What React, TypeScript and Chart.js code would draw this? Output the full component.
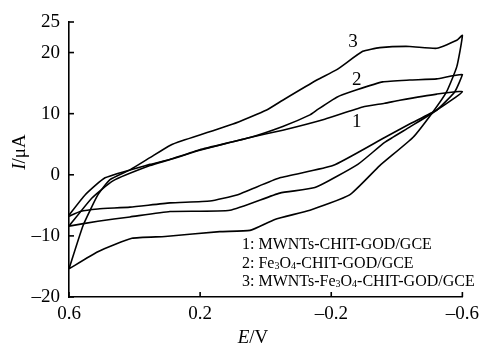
import React, { useEffect, useRef } from 'react';
import { Chart, registerables } from 'chart.js';
Chart.register(...registerables);

// Curve 1: MWNTs-CHIT-GOD/GCE (loop: 0.6 -> -0.6 -> 0.6)
const c1Potential = [0.6, 0.566, 0.512, 0.414, 0.292, 0.17, 0.088, -0.043, -0.205, -0.363, -0.439, -0.522, -0.6,
  -0.522, -0.409, -0.363, -0.296, -0.18, -0.052, 0.048, 0.201, 0.292, 0.353, 0.49, 0.551, 0.6];
const c1Current = [-6.8, -6.0, -5.6, -5.3, -4.6, -4.3, -3.3, -0.5, 1.5, 6.1, 8.3, 10.6, 13.6,
  13.2, 12.2, 11.7, 11.1, 9.1, 7.3, 6.1, 4.0, 2.5, 1.7, -0.5, -3.3, -6.6];

// Curve 2: Fe3O4-CHIT-GOD/GCE
const c2Potential = [0.6, 0.512, 0.414, 0.292, 0.109, -0.043, -0.15, -0.281, -0.363, -0.439, -0.522, -0.577, -0.6,
  -0.522, -0.439, -0.357, -0.278, -0.217, -0.159, -0.135, -0.052, 0.048, 0.201, 0.292, 0.353, 0.466, 0.53, 0.6];
const c2Current = [-8.4, -7.6, -6.9, -6.0, -5.8, -3.0, -2.1, 1.7, 5.3, 7.8, 10.6, 13.6, 16.4,
  15.7, 15.5, 15.2, 13.9, 12.7, 10.7, 9.8, 7.9, 6.1, 4.1, 2.5, 1.5, -1.0, -3.8, -8.4];

// Curve 3: MWNTs-Fe3O4-CHIT-GOD/GCE
const c3Potential = [0.6, 0.512, 0.408, 0.307, 0.14, 0.048, -0.028, -0.135, -0.256, -0.348, -0.449, -0.509, -0.552, -0.583, -0.6,
  -0.583, -0.522, -0.439, -0.348, -0.296, -0.217, -0.156, -0.052, -0.003, 0.1, 0.253, 0.292, 0.353, 0.414, 0.475, 0.512, 0.557, 0.6];
const c3Current = [-15.4, -12.6, -10.4, -10.1, -9.3, -9.1, -7.3, -5.8, -3.3, 1.5, 6.1, 10.2, 13.6, 17.7, 22.8,
  22.0, 20.7, 21.0, 20.8, 20.2, 17.2, 15.5, 12.2, 10.6, 8.3, 5.6, 4.8, 2.8, 0.8, -0.8, -3.3, -8.3, -15.4];

const yTicks = [-20, -10, 0, 10, 20, 25];
const xTicks = [0.6, 0.2, -0.2, -0.6];

const curveLabels = ['1', '2', '3'];
const curveLabelPotential = [-0.278, -0.278, -0.266];
const curveLabelCurrent = [8.6, 15.5, 21.8];

type Seg = { t: string; sub?: boolean };
const legendLines: Seg[][] = [
  [{ t: '1: MWNTs-CHIT-GOD/GCE' }],
  [{ t: '2: Fe' }, { t: '3', sub: true }, { t: 'O' }, { t: '4', sub: true }, { t: '-CHIT-GOD/GCE' }],
  [{ t: '3: MWNTs-Fe' }, { t: '3', sub: true }, { t: 'O' }, { t: '4', sub: true }, { t: '-CHIT-GOD/GCE' }],
];

const SERIF = "'Liberation Serif', 'Times New Roman', serif";

function toPoints(v: number[], i: number[]) {
  return v.map((x, k) => ({ x, y: i[k] }));
}

function fmt(v: number) {
  if (v === 0) return '0';
  return v < 0 ? '\u2013' + String(Math.abs(v)) : String(v);
}

const decorPlugin = {
  id: 'decor',
  afterDraw(chart: any) {
    const ctx: CanvasRenderingContext2D = chart.ctx;
    const xs = chart.scales.x;
    const ys = chart.scales.y;
    const area = chart.chartArea;
    ctx.save();
    ctx.strokeStyle = '#000';
    ctx.lineWidth = 1.6;
    // inward tick marks
    yTicks.forEach((v) => {
      const py = ys.getPixelForValue(v);
      ctx.beginPath();
      ctx.moveTo(area.left, py);
      ctx.lineTo(area.left + 5, py);
      ctx.stroke();
    });
    xTicks.forEach((v) => {
      const px = xs.getPixelForValue(v);
      ctx.beginPath();
      ctx.moveTo(px, area.bottom);
      ctx.lineTo(px, area.bottom - 5);
      ctx.stroke();
    });
    ctx.fillStyle = '#000';
    // curve labels
    ctx.font = `19px ${SERIF}`;
    ctx.textAlign = 'center';
    ctx.textBaseline = 'middle';
    curveLabels.forEach((t, k) => {
      ctx.fillText(t, xs.getPixelForValue(curveLabelPotential[k]), ys.getPixelForValue(curveLabelCurrent[k]));
    });
    // legend text
    ctx.textAlign = 'left';
    ctx.textBaseline = 'alphabetic';
    const baseX = 242;
    const baseYs = [249, 268, 286];
    legendLines.forEach((segs, li) => {
      let x = baseX;
      const y = baseYs[li];
      segs.forEach((s) => {
        if (s.sub) {
          ctx.font = `10px ${SERIF}`;
          ctx.fillText(s.t, x, y + 1);
        } else {
          ctx.font = `16px ${SERIF}`;
          ctx.fillText(s.t, x, y);
        }
        x += ctx.measureText(s.t).width;
      });
    });
    // axis titles
    const drawMixed = (parts: { t: string; it?: boolean }[], cx: number, cy: number) => {
      let total = 0;
      parts.forEach((p) => {
        ctx.font = `${p.it ? 'italic ' : ''}19px ${SERIF}`;
        total += ctx.measureText(p.t).width;
      });
      let x = cx - total / 2;
      ctx.textAlign = 'left';
      ctx.textBaseline = 'middle';
      parts.forEach((p) => {
        ctx.font = `${p.it ? 'italic ' : ''}19px ${SERIF}`;
        ctx.fillText(p.t, x, cy);
        x += ctx.measureText(p.t).width;
      });
    };
    drawMixed([{ t: 'E', it: true }, { t: '/V' }], 253, 338);
    ctx.save();
    ctx.translate(20, 152);
    ctx.rotate(-Math.PI / 2);
    drawMixed([{ t: 'I', it: true }, { t: '/\u03bcA' }], 0, 0);
    ctx.restore();
    ctx.restore();
  },
};

export default function App() {
  const ref = useRef<HTMLCanvasElement | null>(null);
  useEffect(() => {
    if (!ref.current) return;
    const ds = (v: number[], i: number[]) => ({
      data: toPoints(v, i),
      showLine: true,
      borderColor: '#000',
      borderWidth: 1.6,
      pointRadius: 0,
      tension: 0.15,
      fill: false,
      clip: false as any,
    });
    const chart = new Chart(ref.current, {
      type: 'scatter',
      data: {
        datasets: [ds(c1Potential, c1Current), ds(c2Potential, c2Current), ds(c3Potential, c3Current)],
      },
      plugins: [decorPlugin],
      options: {
        animation: false,
        responsive: false,
        devicePixelRatio: 1,
        layout: { padding: { left: 0, top: 22, right: 22, bottom: 0 } },
        plugins: { legend: { display: false }, tooltip: { enabled: false } },
        scales: {
          x: {
            type: 'linear',
            reverse: true,
            min: -0.6,
            max: 0.6,
            afterBuildTicks: (s: any) => {
              s.ticks = xTicks.map((v) => ({ value: v }));
            },
            afterFit: (s: any) => {
              s.height = 53;
            },
            grid: { display: false, drawTicks: false },
            border: { display: true, color: '#000', width: 1.6 },
            ticks: {
              color: '#000',
              font: { family: SERIF, size: 19 },
              padding: 6,
              maxRotation: 0,
              autoSkip: false,
              callback: (v: any) => fmt(Number(v)),
            },
          },
          y: {
            type: 'linear',
            min: -20,
            max: 25,
            afterBuildTicks: (s: any) => {
              s.ticks = yTicks.map((v) => ({ value: v }));
            },
            afterFit: (s: any) => {
              s.width = 69;
            },
            grid: { display: false, drawTicks: false },
            border: { display: true, color: '#000', width: 1.6 },
            ticks: {
              color: '#000',
              font: { family: SERIF, size: 19 },
              padding: 9,
              autoSkip: false,
              callback: (v: any) => fmt(Number(v)),
            },
          },
        },
      } as any,
    });
    return () => chart.destroy();
  }, []);
  return (
    <div style={{ position: 'absolute', left: 0, top: 0, width: 485, height: 350, background: '#fff' }}>
      <canvas ref={ref} width={485} height={350} style={{ width: 485, height: 350 }} />
    </div>
  );
}
